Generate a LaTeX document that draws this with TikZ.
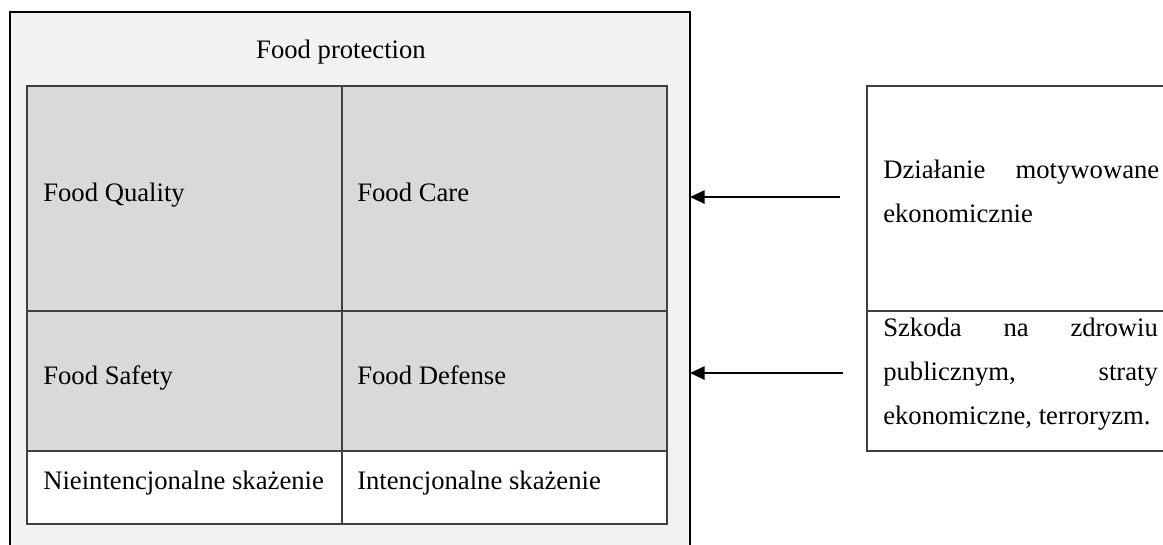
\documentclass[tikz,border=0pt]{standalone}
\usepackage{fontspec}
\setmainfont{Liberation Serif}
\usetikzlibrary{fit,arrows.meta}
\definecolor{panel}{HTML}{F2F2F2}
\definecolor{cellgray}{HTML}{D9D9D9}
\definecolor{rule}{HTML}{404040}
\begin{document}
\begin{tikzpicture}[x=0.75pt,y=-0.75pt,
  every node/.style={font=\fontsize{20}{24}\selectfont},
  frame/.style={draw=black,line width=1.9pt,fill=panel,inner sep=0pt,outer sep=0pt},
  cell/.style={draw=rule,line width=1pt,inner sep=0pt,outer sep=0pt},
  rbox/.style={draw=rule,line width=1.1pt,fill=white,inner sep=0pt,outer sep=0pt},
  txt/.style={anchor=base west,inner sep=0pt},
  arr/.style={-{Triangle[length=11pt,width=10pt]},line width=1.5pt}]
\useasboundingbox (0,0) rectangle (1163,544);
\clip (0,0) rectangle (1163,544);

% outer panel
\node[frame,fit={(10,12) (690,580)}] (outer) {};
\node[anchor=base,inner sep=0pt] (title) at (341,58) {Food protection};

% grid of cells
\node[cell,fill=cellgray,fit={(27,86) (342,311)}] (q) {};
\node[cell,fill=cellgray,fit={(342,86) (667,311)}] (c) {};
\node[cell,fill=cellgray,fit={(27,311) (342,451)}] (s) {};
\node[cell,fill=cellgray,fit={(342,311) (667,451)}] (d) {};
\node[cell,fill=white,fit={(27,451) (342,524)}] (u) {};
\node[cell,fill=white,fit={(342,451) (667,524)}] (i) {};

\node[txt] (tq) at (43,201) {Food Quality};
\node[txt] (tc) at (357,201) {Food Care};
\node[txt] (ts) at (43,384) {Food Safety};
\node[txt] (td) at (357,384) {Food Defense};
\node[txt] (tu) at (43,489) {Nieintencjonalne skażenie};
\node[txt] (ti) at (357,489) {Intencjonalne skażenie};

% motive / consequence box
\node[rbox,fit={(867,86) (1190,311)}] (m) {};
\node[rbox,fit={(867,311) (1190,451)}] (h) {};
\node[txt] (m1) at (883,178) {\makebox[207pt][s]{Działanie motywowane}};
\node[txt] (m2) at (883,222) {ekonomicznie};
\node[txt] (h1) at (883,336) {\makebox[206pt][s]{Szkoda na zdrowiu}};
\node[txt] (h2) at (883,380) {\makebox[206pt][s]{publicznym, straty}};
\node[txt] (h3) at (883,424) {ekonomiczne, terroryzm.};

% arrows
\coordinate (a1) at (840,197);
\coordinate (a2) at (843,373);
\draw[arr] (a1) -- (a1 -| outer.east);
\draw[arr] (a2) -- (a2 -| outer.east);
\end{tikzpicture}
\end{document}
